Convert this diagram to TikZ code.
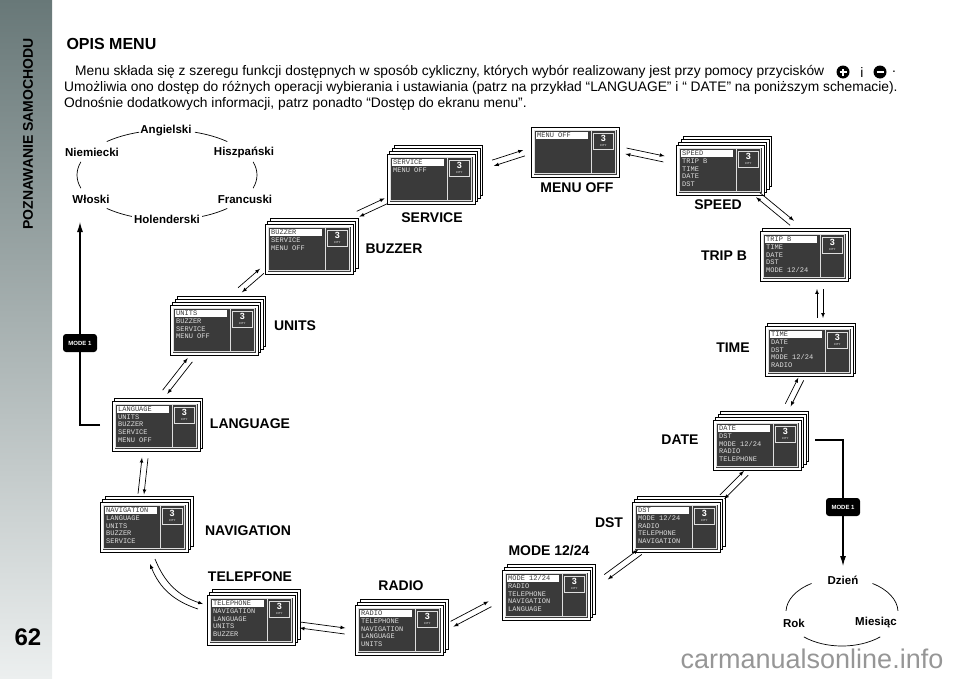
\documentclass[tikz,border=0pt]{standalone}
\usepackage{fontspec}
\setmainfont{Liberation Sans}
\setmonofont{Liberation Mono}
\usetikzlibrary{calc,arrows.meta}

\definecolor{sidetop}{RGB}{104,120,120}
\definecolor{sidebot}{RGB}{236,239,239}
\definecolor{lcdgray}{RGB}{58,58,58}
\definecolor{lcdtext}{RGB}{222,222,222}
\definecolor{markgray}{RGB}{150,150,150}

\tikzset{
  lcdsheet/.style={draw=black, fill=white, line width=0.6pt},
  lcdframe/.style={draw=black, fill=white, line width=0.8pt, minimum width=88pt, minimum height=50pt, inner sep=0pt},
  lcdline/.style={draw=lcdtext, line width=0.5pt},
  lcditem/.style={anchor=west, inner sep=0pt, font=\ttfamily\fontsize{7}{7}\selectfont},
  screenlabel/.style={font=\bfseries\fontsize{14}{14}\selectfont},
  langlabel/.style={font=\bfseries\fontsize{11.5}{11.5}\selectfont},
  bodyline/.style={anchor=west, inner sep=0pt, font=\fontsize{13.8}{16}\selectfont},
  pairarrow/.style={-latex, line width=0.7pt},
  modebadge/.style={fill=black, text=white, rounded corners=3pt, minimum width=34pt, minimum height=18pt, inner sep=1pt, font=\bfseries\fontsize{6}{6}\selectfont},
  modeline/.style={line width=1.1pt},
  arcline/.style={line width=0.7pt},
}

% screen with its stack of sheets: name, x, y, sheets behind, items
\newcommand{\lcdstack}[5]{%
  \ifnum#4>0
    \foreach \k in {#4,...,1}
      \draw[lcdsheet] (#2+2.5*\k,#3-3*\k) rectangle ++(88,50);
  \fi
  \node[lcdframe, anchor=north west] (#1) at (#2,#3) {};
  \fill[lcdgray] (#2+2.5,#3+2.5) rectangle ++(83,45);
  \draw[lcdline] (#2+3.5,#3+3.5) rectangle ++(81,43);
  \draw[lcdline] (#2+60,#3+3.5) -- ++(0,43);
  \draw[lcdline, line width=0.8pt] (#2+62,#3+6) rectangle ++(20.5,16);
  \node[text=white, font=\bfseries\fontsize{9}{9}\selectfont, inner sep=0pt] (#1-num) at (#2+72.25,#3+11.5) {3};
  \node[text=white, font=\fontsize{2.8}{3}\selectfont, inner sep=0pt] (#1-city) at (#2+72.25,#3+18.5) {CITY};
  \fill[white] (#2+5,#3+5) rectangle ++(52,6.5);
  \foreach \t [count=\i] in {#5} {
    \ifnum\i=1 \def\lcdcol{lcdgray}\else\def\lcdcol{lcdtext}\fi
    \node[lcditem, text=\lcdcol] (#1-\i) at (#2+6,#3+0.6+7.7*\i) {\t};
  }%
}

% two opposite arrows between two points
\newcommand{\twoway}[2]{%
  \draw[pairarrow] ($(#1)!3pt!90:(#2)$) -- ($(#2)!3pt!-90:(#1)$);
  \draw[pairarrow] ($(#2)!3pt!90:(#1)$) -- ($(#1)!3pt!-90:(#2)$);
}

\begin{document}
\begin{tikzpicture}[x=1pt,y=-1pt]
\useasboundingbox (0,0) rectangle (960,678);

\shade[top color=sidetop, bottom color=sidebot] (0,0) rectangle (52,678);
\node[rotate=90, font=\bfseries\fontsize{14}{14}\selectfont] (side) at (28,134) {POZNAWANIE SAMOCHODU};
\node[font=\bfseries\fontsize{24}{24}\selectfont] (page) at (28,637) {62};

\node[anchor=west, font=\bfseries\fontsize{16}{16}\selectfont] (title) at (63,44) {OPIS MENU};
\node[bodyline] (line1) at (75,72) {Menu składa się z szeregu funkcji dostępnych w sposób cykliczny, których wybór realizowany jest przy pomocy przycisków};
\node[bodyline] (line2) at (64,88) {Umożliwia ono dostęp do różnych operacji wybierania i ustawiania (patrz na przykład “LANGUAGE” i “ DATE” na poniższym schemacie).};
\node[bodyline] (line3) at (64,104) {Odnośnie dodatkowych informacji, patrz ponadto “Dostęp do ekranu menu”.};
\node[circle, fill=black, minimum size=13pt, inner sep=0pt] (plus) at (843,72) {};
\draw[white, line width=2pt] ([xshift=-3.5pt]plus.center) -- ([xshift=3.5pt]plus.center);
\draw[white, line width=2pt] ([yshift=-3.5pt]plus.center) -- ([yshift=3.5pt]plus.center);
\node[font=\fontsize{13.8}{16}\selectfont] (and) at (862,72) {i};
\node[circle, fill=black, minimum size=13pt, inner sep=0pt] (minus) at (880,72) {};
\draw[white, line width=2pt] ([xshift=-3.5pt]minus.center) -- ([xshift=3.5pt]minus.center);
\node[font=\fontsize{13.8}{16}\selectfont] (dot) at (894,72) {.};

% languages
\coordinate (langc) at (167,175);
\node[langlabel] (ang) at (166,131) {Angielski};
\node[langlabel] (niem) at (92,152) {Niemiecki};
\node[langlabel] (hisz) at (244,152) {Hiszpański};
\node[langlabel] (wlo) at (91,199) {Włoski};
\node[langlabel] (fran) at (245,199) {Francuski};
\node[langlabel] (hol) at (167,219) {Holenderski};
\foreach \a/\b in {228/252, 288/312, 163/197, -17/17, 113/132, 48/67}
  \draw[arcline] ($(langc)+(\a:90 and 45)$) arc[start angle=\a, end angle=\b, x radius=90, y radius=45];

% date
\coordinate (dayc) at (842,612);
\node[langlabel] (dzien) at (843,580) {Dzień};
\node[langlabel] (rok) at (794,623) {Rok};
\node[langlabel] (mies) at (876,623) {Miesiąc};
\foreach \a/\b in {182/237, 303/358, 47/133}
  \draw[arcline] ($(dayc)+(\a:56 and 34)$) arc[start angle=\a, end angle=\b, x radius=56, y radius=34];

% screens
\lcdstack{menuoff}{531}{127}{0}{MENU OFF}
\lcdstack{speed}{676}{145}{3}{SPEED,TRIP B,TIME,DATE,DST}
\lcdstack{tripb}{760}{231}{1}{TRIP B,TIME,DATE,DST,MODE 12/24}
\lcdstack{time}{765}{326}{1}{TIME,DATE,DST,MODE 12/24,RADIO}
\lcdstack{date}{713}{420}{3}{DATE,DST,MODE 12/24,RADIO,TELEPHONE}
\lcdstack{dst}{632}{502}{2}{DST,MODE 12/24,RADIO,TELEPHONE,NAVIGATION}
\lcdstack{mode}{502}{570}{2}{MODE 12/24,RADIO,TELEPHONE,NAVIGATION,LANGUAGE}
\lcdstack{radio}{355}{605}{2}{RADIO,TELEPHONE,NAVIGATION,LANGUAGE,UNITS}
\lcdstack{tele}{207}{595}{2}{TELEPHONE,NAVIGATION,LANGUAGE,UNITS,BUZZER}
\lcdstack{navi}{100}{502}{2}{NAVIGATION,LANGUAGE,UNITS,BUZZER,SERVICE}
\lcdstack{language}{112}{401}{1}{LANGUAGE,UNITS,BUZZER,SERVICE,MENU OFF}
\lcdstack{units}{170}{305}{3}{UNITS,BUZZER,SERVICE,MENU OFF}
\lcdstack{buzzer}{265}{224}{2}{BUZZER,SERVICE,MENU OFF}
\lcdstack{service}{387}{154}{3}{SERVICE,MENU OFF}

\node[screenlabel] (l-menuoff) at (577,188) {MENU OFF};
\node[screenlabel] (l-speed) at (718,205) {SPEED};
\node[screenlabel] (l-tripb) at (724,256) {TRIP B};
\node[screenlabel] (l-time) at (733,348) {TIME};
\node[screenlabel] (l-date) at (680,440) {DATE};
\node[screenlabel] (l-dst) at (609,523) {DST};
\node[screenlabel] (l-mode) at (549,551) {MODE 12/24};
\node[screenlabel] (l-radio) at (401,586) {RADIO};
\node[screenlabel] (l-tele) at (250,577) {TELEPFONE};
\node[screenlabel] (l-navi) at (248,531) {NAVIGATION};
\node[screenlabel] (l-language) at (250,424) {LANGUAGE};
\node[screenlabel] (l-units) at (295,326) {UNITS};
\node[screenlabel] (l-buzzer) at (394,249) {BUZZER};
\node[screenlabel] (l-service) at (432,218) {SERVICE};

% arrows between screens
\coordinate (p1a) at (358,214); \coordinate (p1b) at (386,201);
\coordinate (p2a) at (493,163); \coordinate (p2b) at (524,153);
\coordinate (p3a) at (626,151); \coordinate (p3b) at (664,159);
\coordinate (p4a) at (758,195); \coordinate (p4b) at (792,223);
\coordinate (p5a) at (820,289); \coordinate (p5b) at (820,318);
\coordinate (p6a) at (801,379); \coordinate (p6b) at (788,405);
\coordinate (p7a) at (746,473); \coordinate (p7b) at (722,497);
\coordinate (p8a) at (640,552); \coordinate (p8b) at (606,577);
\coordinate (p9a) at (490,604); \coordinate (p9b) at (452,624);
\coordinate (p10a) at (345,631); \coordinate (p10b) at (300,625);
\coordinate (p12a) at (141,494); \coordinate (p12b) at (145,458);
\coordinate (p13a) at (165,392); \coordinate (p13b) at (190,360);
\coordinate (p14a) at (240,290); \coordinate (p14b) at (262,271);
\foreach \n in {1,...,10,12,13,14}
  \twoway{p\n a}{p\n b}
\coordinate (p11a) at (155,559); \coordinate (p11b) at (203,604);
\coordinate (p11c) at (198,609); \coordinate (p11d) at (150,564);
\draw[pairarrow] (p11a) to[bend right=25] (p11b);
\draw[pairarrow] (p11c) to[bend left=25] (p11d);

% mode 1
\node[modebadge] (modeL) at (80,343) {MODE 1};
\coordinate (langin) at (100,425);
\coordinate (holtip) at (80,222);
\draw[modeline] (langin) -| (modeL);
\draw[modeline, -{Latex[length=10pt,width=6pt]}] (modeL) -- (holtip);
\node[modebadge] (modeR) at (843,507) {MODE 1};
\coordinate (dateout) at (815,440);
\coordinate (daytip) at (843,566);
\draw[modeline] (dateout) -| (modeR);
\draw[modeline, -{Latex[length=10pt,width=6pt]}] (modeR) -- (daytip);

\node[anchor=base, text=markgray, font=\fontsize{27}{27}\selectfont] (mark) at (812,668) {carmanualsonline.info};
\end{tikzpicture}
\end{document}
